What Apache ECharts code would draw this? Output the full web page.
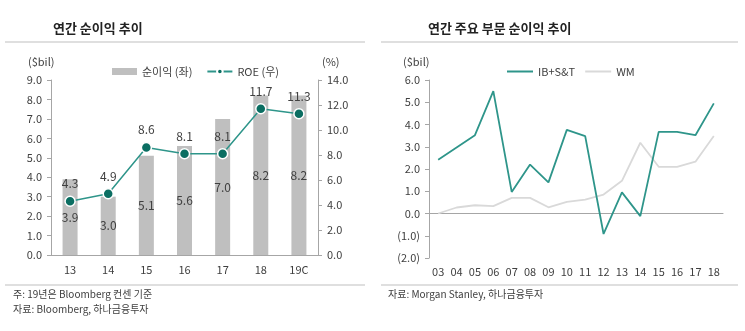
<!DOCTYPE html>
<html>
<head>
<meta charset="utf-8">
<script src="https://cdn.jsdelivr.net/npm/echarts@6/dist/echarts.min.js"></script>
<style>
  html, body { margin: 0; padding: 0; background: #fff; }
  #chart { width: 745px; height: 331px; }
</style>
</head>
<body>
<div id="chart"></div>
<script>
// Annual net income (bars, $bil) and ROE (line, %)
const years = ['13', '14', '15', '16', '17', '18', '19C'];
const netIncome = [3.9, 3.0, 5.1, 5.6, 7.0, 8.2, 8.2];
const roe = [4.3, 4.9, 8.6, 8.1, 8.1, 11.7, 11.3];

// Segment net income, $bil
const segYears = ['03', '04', '05', '06', '07', '08', '09', '10', '11', '12', '13', '14', '15', '16', '17', '18'];
const ibst = [2.42, 2.97, 3.52, 5.5, 0.97, 2.2, 1.4, 3.76, 3.48, -0.92, 0.95, -0.12, 3.67, 3.67, 3.52, 4.95];
const wm = [0.0, 0.27, 0.37, 0.33, 0.7, 0.7, 0.28, 0.52, 0.62, 0.85, 1.47, 3.18, 2.1, 2.1, 2.33, 3.48];

const FONT = '"Noto Sans CJK KR", "Noto Sans", sans-serif';
const TXT = '#404040';
const AXIS = '#A6A6A6';
const TEAL = '#2E958A';
const TEAL_DOT = '#0B6E62';
const BAR = '#BFBFBF';
const WM_COLOR = '#D9D9D9';

const fmt1 = v => v.toFixed(1);
const fmtNeg = v => v < 0 ? '(' + (-v).toFixed(1) + ')' : v.toFixed(1);

const chart = echarts.init(document.getElementById('chart'));

const baseLabel = { color: TXT, fontFamily: FONT, fontSize: 11 };

chart.setOption({
  animation: false,
  textStyle: { fontFamily: FONT },
  grid: [
    { left: 51, right: 427, top: 80, bottom: 76 },
    { left: 429, right: 22, top: 80, bottom: 73 }
  ],
  legend: [
    {
      left: 107, top: 61, itemWidth: 25, itemHeight: 7, itemGap: 14,
      data: [{ name: '순이익 (좌)', icon: 'rect' }, { name: 'ROE (우)' }],
      textStyle: { ...baseLabel }
    },
    {
      left: 502, top: 61, itemWidth: 26, itemHeight: 2, itemGap: 10,
      data: [{ name: 'IB+S&T', icon: 'rect' }, { name: 'WM', icon: 'rect' }],
      textStyle: { ...baseLabel }
    }
  ],
  xAxis: [
    {
      type: 'category', gridIndex: 0, data: years,
      axisLine: { lineStyle: { color: AXIS } },
      axisTick: { inside: true, length: 4, lineStyle: { color: AXIS } },
      axisLabel: { ...baseLabel, margin: 9 }
    },
    {
      type: 'category', gridIndex: 1, data: segYears,
      axisLine: { show: false, onZero: false },
      axisTick: { show: false },
      axisLabel: { ...baseLabel, margin: 8 }
    },
    {
      type: 'category', gridIndex: 1, data: segYears,
      axisLine: { onZero: true, lineStyle: { color: AXIS } },
      axisTick: { length: 4, lineStyle: { color: AXIS } },
      axisLabel: { show: false }
    }
  ],
  yAxis: [
    {
      type: 'value', gridIndex: 0, min: 0, max: 9, interval: 1,
      axisLine: { show: true, lineStyle: { color: AXIS } },
      axisTick: { show: true, length: 4, lineStyle: { color: AXIS } },
      splitLine: { show: false },
      axisLabel: { ...baseLabel, margin: 9, formatter: fmt1 }
    },
    {
      type: 'value', gridIndex: 0, position: 'right', min: 0, max: 14, interval: 2,
      axisLine: { show: true, lineStyle: { color: AXIS } },
      axisTick: { show: true, length: 4, lineStyle: { color: AXIS } },
      splitLine: { show: false },
      axisLabel: { ...baseLabel, margin: 9, formatter: fmt1 }
    },
    {
      type: 'value', gridIndex: 1, min: -2, max: 6, interval: 1,
      axisLine: { show: true, lineStyle: { color: AXIS } },
      axisTick: { show: true, length: 4, lineStyle: { color: AXIS } },
      splitLine: { show: false },
      axisLabel: { ...baseLabel, margin: 9, formatter: fmtNeg }
    }
  ],
  series: [
    {
      name: '순이익 (좌)', type: 'bar', xAxisIndex: 0, yAxisIndex: 0,
      data: netIncome, barWidth: 15,
      itemStyle: { color: BAR },
      label: { show: true, position: 'inside', ...baseLabel, fontSize: 12, formatter: p => fmt1(p.value) }
    },
    {
      name: 'ROE (우)', type: 'line', xAxisIndex: 0, yAxisIndex: 1,
      data: roe, symbol: 'circle', symbolSize: 10,
      lineStyle: { color: TEAL, width: 1.5 },
      itemStyle: { color: TEAL_DOT, borderColor: '#fff', borderWidth: 1.5 },
      label: { show: true, position: 'top', distance: 6, ...baseLabel, fontSize: 12, formatter: p => fmt1(p.value) },
      z: 5
    },
    {
      name: 'IB+S&T', type: 'line', xAxisIndex: 2, yAxisIndex: 2,
      data: ibst, symbol: 'none',
      lineStyle: { color: TEAL, width: 1.8 },
      itemStyle: { color: TEAL },
      z: 4
    },
    {
      name: 'WM', type: 'line', xAxisIndex: 2, yAxisIndex: 2,
      data: wm, symbol: 'none',
      lineStyle: { color: WM_COLOR, width: 1.8 },
      itemStyle: { color: WM_COLOR },
      z: 3
    }
  ],
  graphic: [
    { type: 'text', left: 53, top: 22, style: { text: '연간 순이익 추이', font: 'bold 13px ' + FONT, fill: '#222' } },
    { type: 'text', left: 428, top: 22, style: { text: '연간 주요 부문 순이익 추이', font: 'bold 13px ' + FONT, fill: '#222' } },
    { type: 'line', shape: { x1: 5, y1: 42, x2: 365, y2: 42 }, style: { stroke: '#BFBFBF', lineWidth: 1 } },
    { type: 'line', shape: { x1: 381, y1: 42, x2: 738, y2: 42 }, style: { stroke: '#BFBFBF', lineWidth: 1 } },
    { type: 'line', shape: { x1: 5, y1: 285, x2: 365, y2: 285 }, style: { stroke: '#BFBFBF', lineWidth: 1 } },
    { type: 'line', shape: { x1: 381, y1: 285, x2: 738, y2: 285 }, style: { stroke: '#BFBFBF', lineWidth: 1 } },
    { type: 'text', left: 28, top: 56, style: { text: '($bil)', font: '11px ' + FONT, fill: TXT } },
    { type: 'text', left: 322, top: 56, style: { text: '(%)', font: '11px ' + FONT, fill: TXT } },
    { type: 'text', left: 403, top: 56, style: { text: '($bil)', font: '11px ' + FONT, fill: TXT } },
    { type: 'text', left: 13, top: 289, style: { text: '주: 19년은 Bloomberg 컨센 기준', font: '10px ' + FONT, fill: TXT } },
    { type: 'text', left: 13, top: 304, style: { text: '자료: Bloomberg, 하나금융투자', font: '10px ' + FONT, fill: TXT } },
    { type: 'text', left: 388, top: 289, style: { text: '자료: Morgan Stanley, 하나금융투자', font: '10px ' + FONT, fill: TXT } }
  ]
});
</script>
</body>
</html>
